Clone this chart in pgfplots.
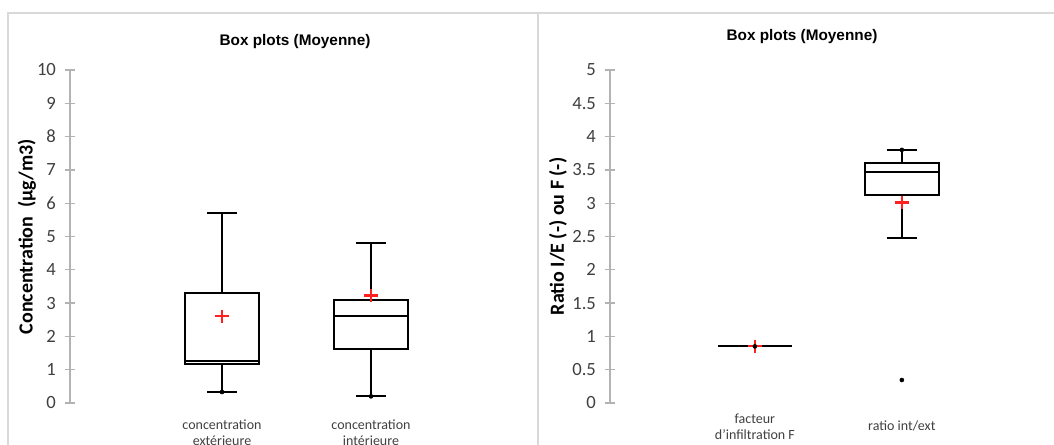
\documentclass[border=0pt]{standalone}
\usepackage{pgfplots}
\pgfplotsset{compat=1.18}
\usepgfplotslibrary{statistics}
\usepackage{fontspec}
\setmainfont{Carlito}
\newfontfamily\titlefont{Liberation Sans}
\definecolor{framegray}{HTML}{D9D9D9}
\definecolor{axisgray}{HTML}{B3B3B3}
\definecolor{ticktext}{HTML}{404040}
\definecolor{meanred}{HTML}{FF2020}
\pgfplotsset{
  mybox/.style={
    axis y line=left, axis x line=bottom, axis line style={-},
    x axis line style={draw=none},
    y axis line style={draw=axisgray, line width=1pt},
    scale only axis, anchor=south west, clip=false,
    tick align=center, major tick length=8pt,
    ytick style={draw=axisgray, line width=1pt},
    xtick style={draw=none},
    xtick={1,2},
    /pgf/number format/assume math mode=true,
    yticklabel style={font=\fontsize{14}{16}\selectfont, text=ticktext, xshift=-3pt},
    xticklabel style={font=\fontsize{10.5}{12}\selectfont, text=ticktext, align=center, anchor=center},
    ylabel style={font=\fontsize{15}{17}\selectfont\bfseries, anchor=center},
    title style={font=\titlefont\fontsize{11.5}{13}\selectfont\bfseries, anchor=center},
    boxplot/draw direction=y,
    boxplot/every box/.style={draw=black, line width=1.4pt},
    boxplot/every whisker/.style={draw=black, line width=1.4pt},
    boxplot/every median/.style={draw=black, line width=1.4pt},
  },
  bx/.style={boxplot prepared={#1, box extend=0.5, whisker extend=0.2},
    black, solid, line width=1.4pt, mark=none},
  meanmark/.style={only marks, mark=+, mark size=5pt, color=meanred, line width=1.6pt},
  dotmark/.style={only marks, mark=*, mark size=1.5pt, black},
}
\begin{document}
\begin{tikzpicture}[x=0.75pt, y=0.75pt]
\clip (0,0) rectangle (1054,445);
\useasboundingbox (0,0) rectangle (1054,445);
\draw[framegray, line width=1.5pt] (8,0) -- (8,432) -- (1054,432);
\draw[framegray, line width=1.5pt] (538,0) -- (538,432);

\begin{axis}[mybox,
  at={(52.5pt,31.5pt)}, width=337.5pt, height=249.75pt,
  xmin=-0.02, xmax=3, ymin=0, ymax=10,
  ytick={0,1,2,3,4,5,6,7,8,9,10},
  xticklabels={concentration\\extérieure, concentration\\intérieure},
  xticklabel style={yshift=-18pt},
  ylabel={Concentration\ \ (µg/m3)},
  ylabel style={at={(axis description cs:-0.0956,0.5)}},
  title={Box plots (Moyenne)},
  title style={at={(axis description cs:0.5,1)}, yshift=15pt},
]
\addplot[bx={draw position=1, lower whisker=0.33, lower quartile=1.17, median=1.27, upper quartile=3.3, upper whisker=5.7}] coordinates {};
\addplot[bx={draw position=2, lower whisker=0.2, lower quartile=1.61, median=2.6, upper quartile=3.1, upper whisker=4.8}] coordinates {};
\addplot[dotmark] coordinates {(1,0.33) (2,0.2)};
\addplot[meanmark] coordinates {(1,2.6) (2,3.23)};
\end{axis}

\begin{axis}[mybox,
  at={(457.5pt,31.5pt)}, width=322.5pt, height=249.75pt,
  xmin=0.014, xmax=2.94, ymin=0, ymax=5,
  ytick={0,0.5,1,1.5,2,2.5,3,3.5,4,4.5,5},
  yticklabel={\pgfmathprintnumber[fixed, precision=1]{\tick}},
  xticklabels={facteur\\d'infiltration F, ratio int/ext},
  xticklabel style={yshift=-13.5pt},
  ylabel={Ratio I/E (-) ou F (-)},
  ylabel style={at={(axis description cs:-0.121,0.5)}},
  title={Box plots (Moyenne)},
  title style={at={(axis description cs:0.4465,1)}, yshift=18.75pt},
]
\addplot[bx={draw position=1, lower whisker=0.86, lower quartile=0.86, median=0.86, upper quartile=0.86, upper whisker=0.86}] coordinates {};
\addplot[bx={draw position=2, lower whisker=2.48, lower quartile=3.12, median=3.47, upper quartile=3.6, upper whisker=3.8}] coordinates {};
\addplot[meanmark] coordinates {(1,0.85) (2,3.01)};
\addplot[dotmark] coordinates {(1,0.85) (2,3.8) (2,0.345)};
\end{axis}
\end{tikzpicture}
\end{document}
